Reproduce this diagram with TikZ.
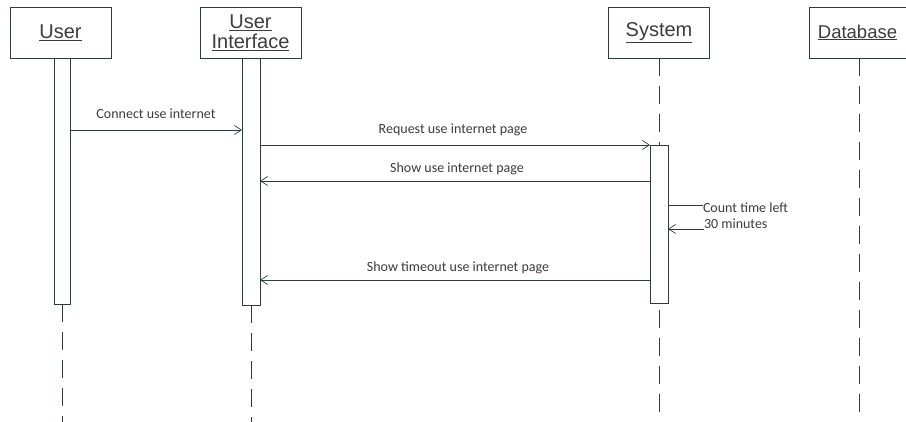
\documentclass[tikz,border=0pt]{standalone}
\usepackage{fontspec}
\setmainfont{Liberation Sans}
\newfontfamily\lblfont{Carlito}
\usetikzlibrary{arrows.meta}
\definecolor{ink}{RGB}{45,60,60}
\definecolor{txt}{RGB}{60,60,60}
\begin{document}
\begin{tikzpicture}[x=1pt,y=-1pt,
  every node/.style={inner sep=0pt,outer sep=0pt},
  head/.style={draw=ink,line width=0.8pt,minimum width=101pt,minimum height=51pt,font=\fontsize{20}{20}\selectfont,text=txt,align=center},
  bar/.style={draw=ink,line width=0.8pt,fill=white,minimum width=16pt},
  life/.style={draw=ink,line width=0.8pt,dash pattern=on 18pt off 10pt},
  msg/.style={draw=ink,line width=0.7pt,-{Straight Barb[length=7pt,width=9pt]}},
  lbl/.style={font=\lblfont\fontsize{14}{16}\selectfont,text=txt,anchor=base}]
\useasboundingbox (0,0) rectangle (906,422);
% heads
\node[head] (user) at (60.5,32.5) {\underline{User}};
\node[head] (ui) at (250.5,32.5) {\underline{User}\\\underline{Interface}};
\node[head] (sys) at (659,32.5) {\underline{System}};
\node[head,minimum width=97pt,font=\fontsize{18.5}{20}\selectfont] (db) at (857.5,32.5) {\underline{Database}};
% lifelines
\coordinate (userend) at (62,422);
\coordinate (uiend) at (251,422);
\coordinate (sysend) at (659,422);
\coordinate (dbend) at (859,422);
\draw[life] (user.south -| userend) ++(0,246) -- (userend);
\draw[life] (ui.south -| uiend) ++(0,247) -- (uiend);
\draw[life] (sys.south -| sysend) -- (sysend);
\draw[life] (db.south -| dbend) -- (dbend);
% activation bars
\node[bar,minimum width=16pt,minimum height=246pt] (ubar) at (62,181) {};
\node[bar,minimum width=18pt,minimum height=247pt] (uibar) at (251,181.5) {};
\node[bar,minimum width=18pt,minimum height=158pt] (sbar) at (659,224) {};
% messages
\draw[msg] (ubar.east |- 0,130) -- (uibar.west |- 0,130);
\node[lbl] (m1) at (156,119) {Connect use internet};
\draw[msg] (uibar.east |- 0,145) -- (sbar.west |- 0,145);
\node[lbl] (m2) at (453,134) {Request use internet page};
\draw[msg] (sbar.west |- 0,181) -- (uibar.east |- 0,181);
\node[lbl] (m3) at (457,173) {Show use internet page};
\node[lbl,anchor=base west] (m4a) at (703,212.5) {Count time left};
\node[lbl,anchor=base west] (m4b) at (704,228.5) {30 minutes};
\draw[draw=ink,line width=0.7pt] (sbar.east |- 0,205) -- (m4a.west |- 0,205);
\draw[msg] (m4b.west |- 0,229) -- (sbar.east |- 0,229);
\draw[msg] (sbar.west |- 0,280) -- (uibar.east |- 0,280);
\node[lbl] (m5) at (458,272) {Show timeout use internet page};
\end{tikzpicture}
\end{document}
